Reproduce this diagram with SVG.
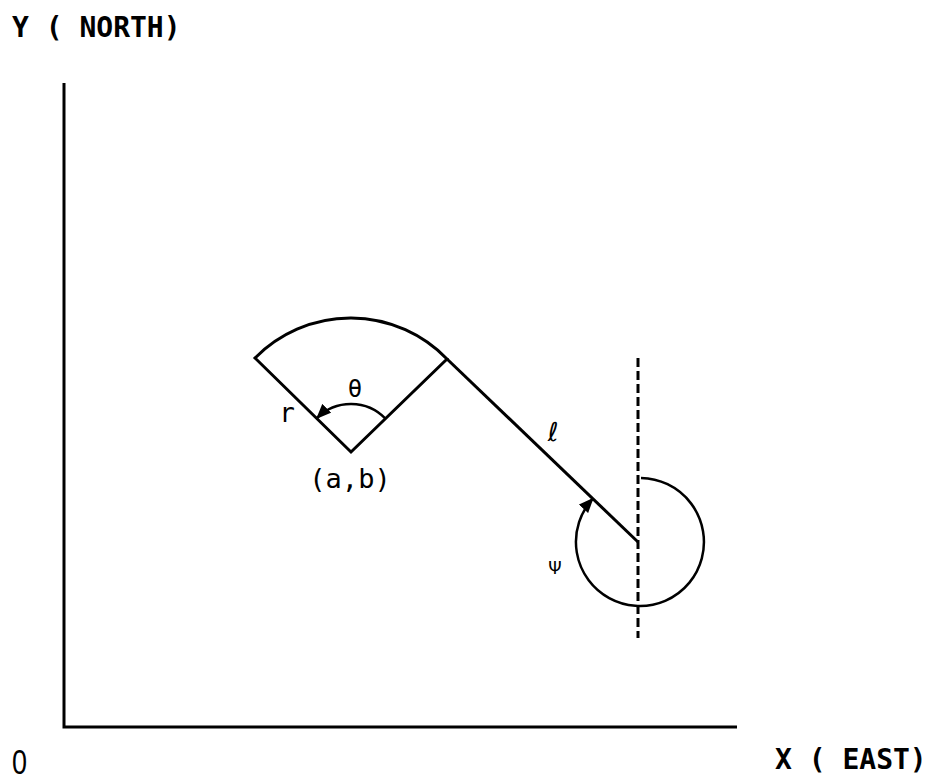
<svg xmlns="http://www.w3.org/2000/svg" width="935" height="782" viewBox="0 0 935 782">
<style>
.ln{fill:none;stroke:#000;stroke-width:3;stroke-linecap:butt;stroke-linejoin:miter}
.thin{fill:none;stroke:#000;stroke-width:2.5}
.lbl{font-family:"DejaVu Sans Mono","Liberation Mono",monospace;fill:#000}
.sym{font-family:"DejaVu Sans","Liberation Sans",sans-serif;fill:#000}
</style>
<defs>
<marker id="ah" viewBox="0 0 12 10" refX="11" refY="5" markerWidth="15" markerHeight="13" markerUnits="userSpaceOnUse" orient="auto">
<path d="M0,0 L12,5 L0,10 Z" fill="#000"/>
</marker>
</defs>
<rect width="935" height="782" fill="#fff"/>
<g id="axes">
<path class="ln" d="M64,83 V727 H737"/>
</g>
<g id="labels">
<text class="lbl" x="12" y="37" font-size="28" font-weight="600">Y ( NORTH)</text>
<text class="lbl" x="775" y="769" font-size="28" font-weight="600">X ( EAST)</text>
<text x="12" y="774" font-family="Liberation Sans, sans-serif" font-size="35" textLength="15" lengthAdjust="spacingAndGlyphs">0</text>
</g>
<g id="sector">
<path class="ln" d="M255,358 L351,452 L447,359 A134,134 0 0 0 255,358 Z"/>
<text class="lbl" x="355" y="397" font-size="24" text-anchor="middle">θ</text>
<text class="lbl" x="287" y="422" font-size="26" text-anchor="middle">r</text>
<text class="lbl" x="350" y="488" font-size="27" text-anchor="middle">(a,b)</text>
</g>
<g id="connectors">
<path class="thin" d="M385.5,418.6 A48,48 0 0 0 317,418" marker-end="url(#ah)"/>
<path class="ln" d="M447,359 L638,542"/>
<path class="ln" d="M638,358 V638" stroke-dasharray="9,4"/>
<path class="thin" d="M641,478 A64,64 0 1 1 592.8,498.7" marker-end="url(#ah)"/>
</g>
<g id="line-labels">
<text class="sym" x="553" y="441" font-size="26" font-style="italic" text-anchor="middle">ℓ</text>
<text class="sym" x="555" y="574" font-size="17" text-anchor="middle">Ψ</text>
</g>
</svg>
